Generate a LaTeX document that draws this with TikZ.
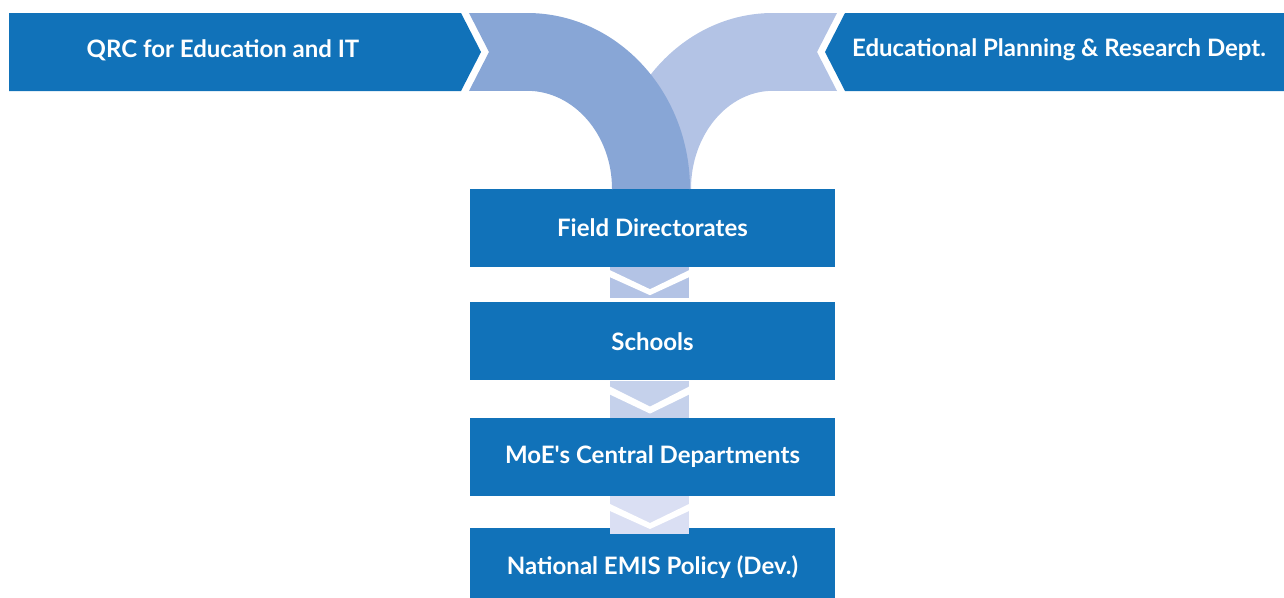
\documentclass[tikz,border=0pt]{standalone}
\usepackage{fontspec}
\setmainfont{Lato}
\usetikzlibrary{positioning,calc}
\definecolor{Navy}{HTML}{1172B9}
\definecolor{Sky}{HTML}{88A6D6}
\definecolor{Pale}{HTML}{B3C3E5}
\definecolor{Paler}{HTML}{C5D1EB}
\definecolor{Palest}{HTML}{DADFF3}
\tikzset{banner/.style ={
        fill=Navy,
    },
    bantext/.style ={
        text=white,
        font=\fontsize{24}{28}\selectfont\bfseries
    },
    notch/.style ={
        fill=white,
    }}

\begin{document}
\begin{tikzpicture}
    [
    x=1pt, y=-1pt,
    block/.style ={
        rectangle,
        fill=Navy,
        text=white,
        minimum width=365pt,
        minimum height=78pt,
        inner sep=0pt,
        font=\fontsize{24}{28}\selectfont\bfseries
    }
    ]
    \useasboundingbox (0,0) rectangle (1284,597);

    % banners
    \fill[banner] (9,13) -- (461,13) -- (481,52) -- (461,91) -- (9,91) -- cycle;
    \fill[banner] (1284,13) -- (845,13) -- (825,52) -- (845,91) -- (1284,91) -- cycle;
    \node (qrc)[bantext] at (223,50) {QRC for Education and IT};
    \node (planning)[bantext] at (1059,50) {Educational Planning \& Research Dept.};

    % boxes
    \node (field)[block] at (652.5,228) {Field Directorates};
    \node (schools)[block,below=35pt of field] {Schools};
    \node (moe)[block,below=37pt of schools] {MoE\textquotesingle s Central Departments};
    \node (policy)[block,below=32pt of moe] {National EMIS Policy (Dev.)};

    % curved bands into the first box
    \fill[Pale] (837,13) -- (773,13)
        arc[start angle=-90,end angle=-180,x radius=161,y radius=176]
        -- ($(field.north)+(38.5,0)$)
        arc[start angle=180,end angle=270,x radius=82,y radius=98]
        -- (837,91) -- (817,52) -- cycle;
    \fill[Sky] (469,13) -- (527,13)
        arc[start angle=-90,end angle=0,x radius=163,y radius=176]
        -- ($(field.north)+(-40.5,0)$)
        arc[start angle=0,end angle=-90,x radius=85,y radius=98]
        -- (469,91) -- (489,52) -- cycle;

    % chevrons between boxes
    \fill[Pale] ($(field.south)+(-42.5,0)$) rectangle ($(schools.north)+(36.5,-4)$);
    \fill[notch] ($(field.south)+(-42.5,3)$) -- ($(field.south)+(-2.5,22)$)
        -- ($(field.south)+(36.5,3)$) -- ($(field.south)+(36.5,10)$)
        -- ($(field.south)+(-2.5,28)$) -- ($(field.south)+(-42.5,10)$) -- cycle;
    \fill[Paler] ($(schools.south)+(-42.5,0)$) rectangle ($(moe.north)+(36.5,0)$);
    \fill[notch] ($(schools.south)+(-42.5,6)$) -- ($(schools.south)+(-2.5,26)$)
        -- ($(schools.south)+(36.5,6)$) -- ($(schools.south)+(36.5,14)$)
        -- ($(schools.south)+(-2.5,33)$) -- ($(schools.south)+(-42.5,14)$) -- cycle;
    \fill[Palest] ($(moe.south)+(-42.5,0)$) rectangle ($(policy.north)+(36.5,6)$);
    \fill[notch] ($(moe.south)+(-42.5,8)$) -- ($(moe.south)+(-2.5,27)$)
        -- ($(moe.south)+(36.5,8)$) -- ($(moe.south)+(36.5,15)$)
        -- ($(moe.south)+(-2.5,33)$) -- ($(moe.south)+(-42.5,15)$) -- cycle;

\end{tikzpicture}
\end{document}
